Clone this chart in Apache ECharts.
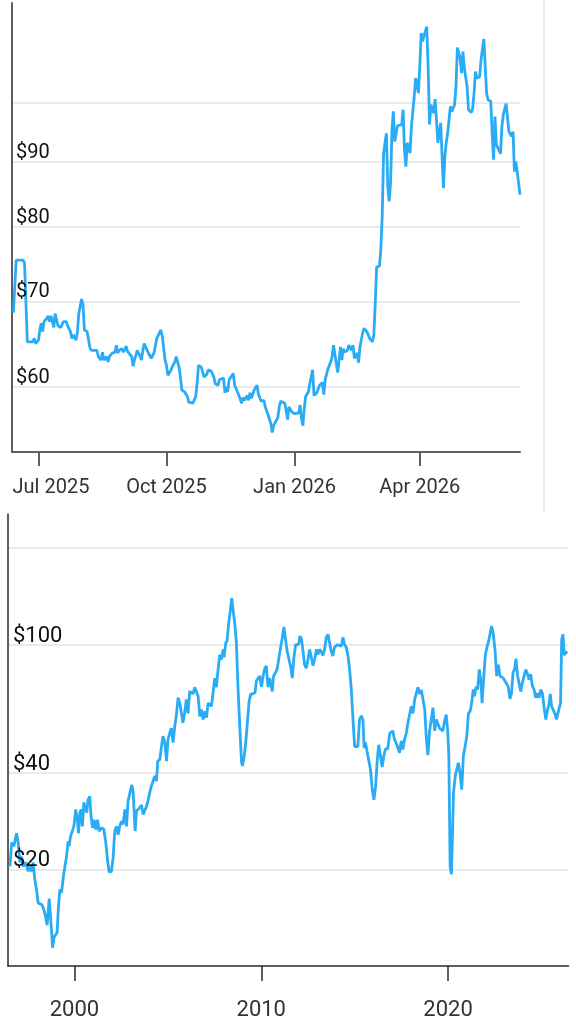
<!DOCTYPE html>
<html>
<head>
<meta charset="utf-8">
<script src="https://cdn.jsdelivr.net/npm/echarts@6/dist/echarts.min.js"></script>
<style>
  body { margin: 0; background: #fff; }
  #price-chart { width: 576px; height: 1025px; }
  /* thin separator at the right of the one-year panel */
  .panel-divider {
    position: absolute;
    left: 543px;
    top: 0;
    width: 2px;
    height: 511px;
    background: #e8e8e8;
  }
</style>
</head>
<body>
<div id="price-chart"></div>
<div class="panel-divider"></div>
<script>
// one year, daily closes
const dailyDates = [
  '2025-06-13', '2025-06-15', '2025-06-18', '2025-06-20', '2025-06-21', '2025-06-23', '2025-06-27', '2025-06-28', '2025-06-29',
  '2025-07-01', '2025-07-02', '2025-07-03', '2025-07-04', '2025-07-05', '2025-07-07', '2025-07-08', '2025-07-09', '2025-07-10',
  '2025-07-11', '2025-07-12', '2025-07-13', '2025-07-15', '2025-07-16', '2025-07-17', '2025-07-18', '2025-07-19', '2025-07-21',
  '2025-07-22', '2025-07-24', '2025-07-25', '2025-07-26', '2025-07-28', '2025-07-29', '2025-07-30', '2025-08-01', '2025-08-02',
  '2025-08-03', '2025-08-05', '2025-08-07', '2025-08-08', '2025-08-10', '2025-08-12', '2025-08-13', '2025-08-15', '2025-08-16',
  '2025-08-17', '2025-08-19', '2025-08-20', '2025-08-21', '2025-08-22', '2025-08-23', '2025-08-25', '2025-08-26', '2025-08-27',
  '2025-08-28', '2025-08-30', '2025-08-31', '2025-09-01', '2025-09-02', '2025-09-03', '2025-09-04', '2025-09-06', '2025-09-07',
  '2025-09-08', '2025-09-09', '2025-09-10', '2025-09-12', '2025-09-13', '2025-09-14', '2025-09-15', '2025-09-16', '2025-09-18',
  '2025-09-20', '2025-09-21', '2025-09-22', '2025-09-24', '2025-09-25', '2025-09-27', '2025-09-28', '2025-09-29', '2025-09-30',
  '2025-10-01', '2025-10-02', '2025-10-04', '2025-10-05', '2025-10-06', '2025-10-07', '2025-10-08', '2025-10-10', '2025-10-11',
  '2025-10-12', '2025-10-13', '2025-10-14', '2025-10-16', '2025-10-17', '2025-10-18', '2025-10-20', '2025-10-22', '2025-10-23',
  '2025-10-24', '2025-10-25', '2025-10-26', '2025-10-28', '2025-10-30', '2025-10-31', '2025-11-02', '2025-11-04', '2025-11-05',
  '2025-11-07', '2025-11-08', '2025-11-11', '2025-11-12', '2025-11-13', '2025-11-14', '2025-11-15', '2025-11-16', '2025-11-18',
  '2025-11-19', '2025-11-20', '2025-11-22', '2025-11-23', '2025-11-24', '2025-11-25', '2025-11-26', '2025-11-28', '2025-11-29',
  '2025-11-30', '2025-12-01', '2025-12-02', '2025-12-03', '2025-12-05', '2025-12-06', '2025-12-08', '2025-12-09', '2025-12-10',
  '2025-12-11', '2025-12-12', '2025-12-13', '2025-12-15', '2025-12-16', '2025-12-17', '2025-12-18', '2025-12-20', '2025-12-21',
  '2025-12-22', '2025-12-23', '2025-12-25', '2025-12-26', '2025-12-27', '2025-12-28', '2025-12-29', '2025-12-30', '2025-12-31',
  '2026-01-01', '2026-01-02', '2026-01-04', '2026-01-05', '2026-01-06', '2026-01-07', '2026-01-08', '2026-01-09', '2026-01-11',
  '2026-01-12', '2026-01-14', '2026-01-15', '2026-01-17', '2026-01-18', '2026-01-19', '2026-01-21', '2026-01-22', '2026-01-23',
  '2026-01-24', '2026-01-25', '2026-01-27', '2026-01-28', '2026-01-29', '2026-01-30', '2026-02-01', '2026-02-02', '2026-02-03',
  '2026-02-04', '2026-02-05', '2026-02-06', '2026-02-08', '2026-02-09', '2026-02-11', '2026-02-12', '2026-02-13', '2026-02-14',
  '2026-02-15', '2026-02-16', '2026-02-17', '2026-02-19', '2026-02-20', '2026-02-21', '2026-02-22', '2026-02-24', '2026-02-26',
  '2026-02-27', '2026-02-28', '2026-03-01', '2026-03-03', '2026-03-04', '2026-03-05', '2026-03-06', '2026-03-08', '2026-03-09',
  '2026-03-10', '2026-03-11', '2026-03-12', '2026-03-13', '2026-03-14', '2026-03-16', '2026-03-17', '2026-03-19', '2026-03-20',
  '2026-03-21', '2026-03-22', '2026-03-23', '2026-03-24', '2026-03-25', '2026-03-26', '2026-03-28', '2026-03-29', '2026-03-30',
  '2026-03-31', '2026-04-01', '2026-04-02', '2026-04-03', '2026-04-05', '2026-04-06', '2026-04-07', '2026-04-08', '2026-04-09',
  '2026-04-11', '2026-04-12', '2026-04-13', '2026-04-14', '2026-04-15', '2026-04-16', '2026-04-18', '2026-04-19', '2026-04-20',
  '2026-04-21', '2026-04-23', '2026-04-24', '2026-04-26', '2026-04-27', '2026-04-28', '2026-04-30', '2026-05-01', '2026-05-02',
  '2026-05-03', '2026-05-05', '2026-05-06', '2026-05-08', '2026-05-09', '2026-05-10', '2026-05-11', '2026-05-12', '2026-05-14',
  '2026-05-15', '2026-05-17', '2026-05-18', '2026-05-19', '2026-05-20', '2026-05-22', '2026-05-23', '2026-05-24', '2026-05-25',
  '2026-05-26', '2026-05-27', '2026-05-29', '2026-05-30', '2026-05-31', '2026-06-02', '2026-06-03', '2026-06-04', '2026-06-06',
  '2026-06-07', '2026-06-08', '2026-06-09', '2026-06-10', '2026-06-12'
];
const dailyPrices = [
  68.6, 75.4, 75.4, 75.4, 75.0, 65.1, 65.1, 65.5, 64.9,
  65.3, 66.5, 67.3, 66.3, 67.5, 67.9, 68.2, 67.5, 68.2,
  68.3, 66.8, 68.5, 67.0, 66.8, 66.8, 66.6, 67.5, 67.5,
  67.0, 66.3, 65.5, 65.9, 65.3, 66.3, 68.5, 70.3, 69.6,
  66.5, 66.3, 64.4, 64.1, 64.1, 64.1, 63.4, 63.0, 63.9,
  63.0, 63.4, 62.8, 63.4, 63.4, 63.8, 63.9, 64.7, 63.8,
  64.1, 64.3, 63.9, 64.2, 64.6, 64.0, 64.0, 63.4, 62.3,
  63.0, 63.0, 64.1, 63.4, 63.0, 64.1, 64.9, 64.5, 63.8,
  63.2, 63.0, 63.8, 65.5, 65.6, 66.5, 65.7, 64.3, 63.0,
  62.4, 61.3, 61.8, 62.2, 62.4, 62.8, 63.4, 62.2, 61.1,
  59.7, 59.5, 59.5, 59.0, 58.4, 58.3, 58.3, 59.0, 60.4,
  62.4, 62.3, 62.2, 61.1, 61.4, 61.9, 61.8, 61.1, 60.4,
  60.2, 60.8, 61.0, 59.4, 60.0, 59.5, 60.8, 61.0, 61.5,
  60.2, 60.0, 59.1, 58.9, 58.3, 58.9, 58.6, 59.1, 58.6,
  59.4, 58.8, 58.8, 59.7, 60.2, 59.3, 58.5, 58.4, 58.6,
  57.9, 57.5, 57.1, 56.2, 55.3, 56.0, 56.2, 56.8, 57.9,
  58.5, 58.7, 58.3, 57.5, 56.6, 57.9, 57.8, 57.4, 57.6,
  57.2, 57.3, 57.3, 58.1, 56.7, 56.0, 57.8, 59.0, 59.5,
  60.4, 61.9, 59.1, 59.4, 59.4, 60.2, 60.5, 59.2, 60.8,
  60.7, 62.0, 62.8, 63.4, 64.7, 64.5, 61.6, 63.0, 64.5,
  63.0, 64.3, 63.9, 64.1, 64.7, 64.1, 64.7, 63.2, 63.2,
  63.8, 62.7, 64.5, 66.2, 66.7, 66.7, 66.3, 65.5, 65.1,
  65.9, 69.8, 74.5, 74.6, 76.8, 81.6, 91.4, 94.7, 86.1,
  83.8, 86.6, 95.3, 98.5, 93.3, 96.0, 96.2, 96.2, 98.8,
  91.9, 89.2, 93.1, 93.3, 91.4, 95.9, 101.2, 104.6, 103.3,
  101.8, 106.8, 113.4, 111.7, 113.8, 114.7, 106.8, 96.2, 99.7,
  98.2, 100.7, 97.0, 93.1, 93.1, 96.5, 85.8, 90.9, 93.1,
  94.7, 99.4, 98.5, 99.7, 103.0, 110.5, 108.4, 105.5, 109.7,
  106.5, 103.0, 98.8, 98.3, 99.1, 101.8, 105.8, 104.6, 104.8,
  108.1, 112.2, 112.1, 101.8, 100.6, 100.3, 94.7, 90.3, 97.6,
  92.8, 92.8, 91.3, 95.9, 97.9, 99.9, 97.6, 95.0, 94.2,
  95.0, 88.4, 90.0, 88.4, 84.8
];

// thirty years, as decimal years
const longYears = [
  1996.55, 1996.64, 1996.76, 1996.90, 1996.99, 1997.08, 1997.17, 1997.26, 1997.40, 1997.52,
  1997.61, 1997.70, 1997.79, 1997.88, 1997.97, 1998.06, 1998.15, 1998.27, 1998.36, 1998.45,
  1998.54, 1998.65, 1998.72, 1998.78, 1998.83, 1998.91, 1999.00, 1999.07, 1999.15, 1999.22,
  1999.31, 1999.40, 1999.49, 1999.58, 1999.66, 1999.72, 1999.79, 1999.88, 1999.97, 2000.07,
  2000.14, 2000.22, 2000.29, 2000.36, 2000.43, 2000.50, 2000.59, 2000.66, 2000.73, 2000.82,
  2000.89, 2000.97, 2001.05, 2001.14, 2001.24, 2001.32, 2001.45, 2001.57, 2001.68, 2001.77,
  2001.86, 2001.98, 2002.07, 2002.16, 2002.25, 2002.34, 2002.43, 2002.52, 2002.60, 2002.70,
  2002.79, 2002.87, 2002.96, 2003.07, 2003.14, 2003.25, 2003.32, 2003.41, 2003.50, 2003.59,
  2003.68, 2003.77, 2003.86, 2003.94, 2004.03, 2004.12, 2004.21, 2004.30, 2004.39, 2004.46,
  2004.57, 2004.66, 2004.74, 2004.84, 2004.93, 2005.01, 2005.10, 2005.19, 2005.28, 2005.37,
  2005.46, 2005.55, 2005.64, 2005.73, 2005.81, 2005.91, 2005.99, 2006.08, 2006.17, 2006.26,
  2006.35, 2006.44, 2006.53, 2006.62, 2006.71, 2006.80, 2006.89, 2006.98, 2007.07, 2007.15,
  2007.24, 2007.33, 2007.42, 2007.51, 2007.60, 2007.69, 2007.78, 2007.87, 2007.96, 2008.01,
  2008.10, 2008.17, 2008.26, 2008.35, 2008.42, 2008.49, 2008.58, 2008.67, 2008.76, 2008.85,
  2008.94, 2008.99, 2009.08, 2009.17, 2009.26, 2009.35, 2009.44, 2009.56, 2009.67, 2009.74,
  2009.83, 2009.92, 2010.01, 2010.10, 2010.18, 2010.27, 2010.36, 2010.45, 2010.54, 2010.59,
  2010.66, 2010.77, 2010.86, 2010.95, 2011.02, 2011.11, 2011.21, 2011.30, 2011.39, 2011.48,
  2011.57, 2011.66, 2011.75, 2011.84, 2011.93, 2012.00, 2012.07, 2012.16, 2012.25, 2012.32,
  2012.41, 2012.50, 2012.59, 2012.68, 2012.77, 2012.86, 2012.95, 2013.04, 2013.12, 2013.21,
  2013.30, 2013.39, 2013.48, 2013.57, 2013.66, 2013.75, 2013.83, 2013.92, 2014.01, 2014.10,
  2014.19, 2014.28, 2014.37, 2014.46, 2014.55, 2014.64, 2014.73, 2014.82, 2014.91, 2015.00,
  2015.09, 2015.17, 2015.26, 2015.35, 2015.44, 2015.51, 2015.58, 2015.66, 2015.76, 2015.85,
  2015.94, 2016.03, 2016.12, 2016.21, 2016.29, 2016.38, 2016.47, 2016.56, 2016.65, 2016.77,
  2016.88, 2017.04, 2017.13, 2017.26, 2017.40, 2017.49, 2017.58, 2017.67, 2017.76, 2017.85,
  2017.94, 2018.03, 2018.12, 2018.21, 2018.30, 2018.39, 2018.48, 2018.57, 2018.66, 2018.75,
  2018.84, 2018.92, 2019.01, 2019.10, 2019.19, 2019.28, 2019.37, 2019.45, 2019.54, 2019.63,
  2019.72, 2019.81, 2019.90, 2019.98, 2020.04, 2020.11, 2020.18, 2020.25, 2020.29, 2020.38,
  2020.46, 2020.55, 2020.64, 2020.73, 2020.82, 2020.91, 2021.00, 2021.09, 2021.18, 2021.26,
  2021.35, 2021.41, 2021.50, 2021.58, 2021.67, 2021.76, 2021.82, 2021.90, 2021.99, 2022.08,
  2022.17, 2022.26, 2022.33, 2022.42, 2022.51, 2022.60, 2022.69, 2022.78, 2022.86, 2022.95,
  2023.04, 2023.13, 2023.22, 2023.31, 2023.39, 2023.48, 2023.57, 2023.63, 2023.72, 2023.80,
  2023.89, 2023.98, 2024.07, 2024.16, 2024.25, 2024.33, 2024.42, 2024.51, 2024.60, 2024.69,
  2024.78, 2024.87, 2024.96, 2025.05, 2025.14, 2025.23, 2025.31, 2025.40, 2025.47, 2025.54,
  2025.62, 2025.71, 2025.80, 2025.88, 2025.97, 2026.02, 2026.08, 2026.15, 2026.22, 2026.29,
  2026.38
];
const longPrices = [
  20.4, 24.2, 23.6, 25.9, 24.2, 21.0, 21.9, 20.4, 21.0, 19.7,
  20.4, 19.7, 21.0, 18.6, 17.3, 15.7, 15.9, 15.5, 15.0, 14.3,
  13.4, 16.2, 14.3, 12.7, 11.4, 12.3, 12.3, 12.7, 15.4, 17.3,
  16.9, 18.8, 20.4, 21.9, 24.4, 23.6, 25.3, 25.1, 27.2, 30.7,
  29.0, 25.9, 30.0, 30.7, 27.2, 32.3, 32.6, 30.0, 32.9, 33.7,
  29.3, 26.9, 28.5, 26.6, 28.5, 26.3, 26.9, 26.7, 24.2, 21.4,
  19.6, 19.7, 21.7, 26.3, 27.2, 25.6, 27.3, 28.2, 27.6, 30.7,
  27.2, 32.6, 32.9, 36.6, 35.0, 26.3, 30.3, 30.0, 31.1, 31.7,
  29.6, 29.6, 31.4, 32.7, 34.6, 36.3, 36.5, 39.0, 37.6, 43.4,
  43.9, 48.2, 51.9, 49.6, 43.4, 50.7, 53.0, 55.0, 49.6, 55.6,
  60.6, 68.4, 65.8, 61.1, 57.1, 62.0, 67.5, 61.1, 71.5, 72.2,
  70.3, 73.7, 74.2, 69.1, 59.8, 62.8, 58.5, 62.0, 59.3, 65.8,
  65.8, 64.3, 70.6, 78.7, 73.7, 83.7, 93.0, 89.9, 96.6, 91.3,
  101.2, 102.7, 116.8, 128.5, 139.5, 128.5, 116.8, 101.2, 72.5, 55.7,
  43.4, 41.9, 44.6, 49.6, 50.2, 66.6, 70.3, 70.3, 70.9, 77.2,
  76.2, 79.9, 74.0, 79.9, 84.0, 85.9, 73.7, 78.7, 74.0, 71.5,
  79.9, 81.9, 84.5, 91.3, 92.6, 103.7, 113.5, 103.7, 95.1, 93.9,
  85.5, 78.7, 91.3, 100.0, 98.8, 100.0, 106.4, 103.7, 103.7, 86.6,
  84.5, 89.9, 96.6, 91.3, 86.0, 89.9, 96.6, 93.2, 96.6, 95.1,
  92.6, 96.6, 105.3, 107.7, 101.2, 95.1, 92.2, 98.2, 98.8, 100.0,
  101.2, 98.8, 105.3, 100.0, 98.2, 92.6, 83.7, 72.5, 58.5, 48.2,
  47.6, 48.2, 58.5, 60.1, 58.5, 47.6, 49.6, 46.6, 46.6, 40.8,
  35.4, 32.9, 36.2, 43.9, 48.8, 48.2, 41.6, 45.1, 47.4, 47.4,
  53.0, 53.9, 50.7, 48.8, 46.1, 50.2, 47.2, 50.7, 53.0, 57.1,
  60.6, 64.3, 61.1, 67.5, 68.4, 73.7, 70.3, 72.2, 72.7, 62.8,
  50.7, 45.3, 53.9, 58.5, 63.6, 53.9, 58.5, 58.5, 55.0, 55.6,
  53.9, 57.9, 60.6, 53.9, 45.1, 20.4, 19.3, 19.5, 34.6, 39.0,
  40.8, 42.9, 39.9, 35.4, 45.1, 48.2, 51.9, 61.1, 62.0, 65.8,
  72.5, 69.1, 74.0, 72.5, 83.7, 76.3, 65.8, 77.9, 92.6, 98.2,
  102.7, 108.9, 114.3, 107.7, 96.6, 79.9, 86.6, 79.9, 79.9, 78.7,
  77.2, 76.2, 74.0, 67.8, 70.3, 81.9, 84.5, 90.4, 79.9, 75.9,
  71.5, 76.2, 79.9, 83.7, 80.9, 77.9, 80.9, 74.4, 72.5, 68.4,
  70.6, 68.4, 72.5, 70.6, 63.6, 58.5, 62.0, 65.3, 70.3, 64.3,
  62.8, 61.1, 58.5, 57.7, 64.3, 65.8, 103.7, 107.7, 92.6, 95.1,
  93.9
];

// ticks and grid values
const dailyTicks = ['2025-07-01', '2025-10-01', '2026-01-01', '2026-04-01'];
const dailyGridValues = [60, 70, 80, 90, 100];
const dailyLabelValues = [60, 70, 80, 90];
const longTicks = [2000, 2010, 2020];
const longGridValues = [20, 40, 100, 200];
const longLabelValues = [20, 40, 100];

const MONTHS = ['Jan', 'Feb', 'Mar', 'Apr', 'May', 'Jun', 'Jul', 'Aug', 'Sep', 'Oct', 'Nov', 'Dec'];
const LINE_COLOR = '#29abf6';

// dates are kept as UTC timestamps on a plain value axis
const toTime = (s) => Date.parse(s + 'T00:00:00Z');

function renderChart() {
  const chart = echarts.init(document.getElementById('price-chart'), null, { renderer: 'canvas' });

  const dailyData = dailyDates.map((d, i) => [toTime(d), dailyPrices[i]]);
  const longData = longYears.map((y, i) => [y, longPrices[i]]);
  const dailyTickTimes = dailyTicks.map(toTime);

  // axis that only draws the horizontal grid lines
  function gridAxis(gridIndex, min, max, values) {
    return {
      type: 'log',
      gridIndex: gridIndex,
      position: 'left',
      min: min,
      max: max,
      axisLine: { show: false },
      axisTick: { show: false, customValues: values },
      axisLabel: { show: false },
      splitLine: { show: true, lineStyle: { color: '#e3e3e3', width: 1.5 } }
    };
  }
  // axis that only draws the price labels, above the line
  function labelAxis(gridIndex, min, max, values, size, lineH, margin) {
    return {
      type: 'log',
      gridIndex: gridIndex,
      position: 'left',
      min: min,
      max: max,
      z: 10,
      axisLine: { show: false },
      axisTick: { show: false },
      splitLine: { show: false },
      axisLabel: {
        inside: true,
        customValues: values,
        margin: margin,
        verticalAlign: 'bottom',
        fontSize: size,
        lineHeight: lineH,
        color: '#111',
        formatter: (v) => '$' + Math.round(v)
      }
    };
  }

  const option = {
    animation: false,
    textStyle: { fontFamily: 'Roboto' },
    grid: [
      { left: 12, top: 3, width: 508, height: 449, outerBoundsMode: 'none' },
      { left: 8, top: 514, width: 560.5, height: 452, outerBoundsMode: 'none' }
    ],
    xAxis: [
      {
        type: 'value',
        gridIndex: 0,
        min: toTime('2025-06-12'),
        max: toTime('2026-06-12'),
        axisLine: { lineStyle: { color: '#5f5f5f', width: 2 } },
        axisTick: { customValues: dailyTickTimes, length: 14, lineStyle: { color: '#5f5f5f', width: 2 } },
        splitLine: { show: false },
        axisLabel: {
          customValues: dailyTickTimes,
          margin: 26,
          fontSize: 20,
          lineHeight: 20,
          color: '#333',
          formatter: (v) => {
            const d = new Date(v);
            const txt = MONTHS[d.getUTCMonth()] + ' ' + d.getUTCFullYear();
            // first label is pushed right so it stays inside the plot
            return v === dailyTickTimes[0] ? '{pad| }{lbl|' + txt + '}' : txt;
          },
          rich: {
            pad: { width: 25, fontSize: 20, lineHeight: 20 },
            lbl: { fontSize: 20, lineHeight: 20, color: '#333' }
          }
        }
      },
      {
        type: 'value',
        gridIndex: 1,
        min: 1996.445,
        max: 2026.445,
        axisLine: { lineStyle: { color: '#2a2a2a', width: 1.5 } },
        axisTick: { customValues: longTicks, length: 15, lineStyle: { color: '#2a2a2a', width: 1.5 } },
        splitLine: { show: false },
        axisLabel: {
          customValues: longTicks,
          margin: 33,
          fontSize: 22,
          lineHeight: 22,
          color: '#333',
          formatter: (v) => String(Math.round(v))
        }
      }
    ],
    yAxis: [
      Object.assign(gridAxis(0, 53.4, 119.7, dailyGridValues), {
        axisLine: { show: true, lineStyle: { color: '#5f5f5f', width: 2 } }
      }),
      labelAxis(0, 53.4, 119.7, dailyLabelValues, 20, 18, 4),
      Object.assign(gridAxis(1, 10, 255, longGridValues), {
        axisLine: { show: true, lineStyle: { color: '#2a2a2a', width: 1.5 } }
      }),
      labelAxis(1, 10, 255, longLabelValues, 22, 17, 5)
    ],
    series: [
      {
        name: '1Y',
        type: 'line',
        xAxisIndex: 0,
        yAxisIndex: 0,
        data: dailyData,
        showSymbol: false,
        lineStyle: { color: LINE_COLOR, width: 2.8 },
        itemStyle: { color: LINE_COLOR }
      },
      {
        name: '30Y',
        type: 'line',
        xAxisIndex: 1,
        yAxisIndex: 2,
        data: longData,
        showSymbol: false,
        lineStyle: { color: LINE_COLOR, width: 2.8 },
        itemStyle: { color: LINE_COLOR }
      }
    ]
  };

  chart.setOption(option);
}

renderChart();
</script>
</body>
</html>
